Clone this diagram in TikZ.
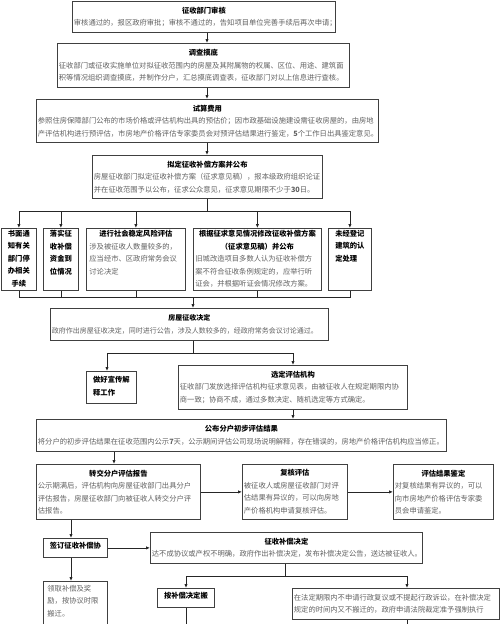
\documentclass[tikz,border=0pt]{standalone}
\usepackage{fontspec}
\setmainfont{Noto Sans CJK SC}
\usetikzlibrary{arrows.meta,calc}
\newcommand\ttl[1]{{\centering\color{black}\bfseries #1\par}}
\begin{document}
\begin{tikzpicture}[x=1pt,y=-1pt,
  box/.style={draw=black!75, line width=0.8pt, fill=white, anchor=north west, inner xsep=1.5pt, inner ysep=1pt,
    font=\fontsize{7.3}{12.5}\selectfont, text=black!62, align=left},
  frame/.style={draw=black!75, line width=0.8pt, fill=white, anchor=north west, inner sep=0pt},
  intext/.style={anchor=north, inner sep=0pt, font=\fontsize{7.3}{12.5}\selectfont, text=black!62, align=left},
  bt/.style={anchor=north, inner sep=0pt, font=\fontsize{7.3}{12.5}\selectfont\bfseries, text=black, align=center},
  arr/.style={draw=black!85, line width=0.8pt, -{Latex[length=4pt,width=3.4pt]}},
  ln/.style={draw=black!85, line width=0.8pt}]
\useasboundingbox (0,0) rectangle (500,624);
\fill[white] (0,0) rectangle (500,624);
\clip (0,0) rectangle (500,624);

% top chain
\node[box, minimum width=263pt, minimum height=31pt, text width=260pt] (b1) at (72,1)
 {\ttl{征收部门审核}审核通过的，报区政府审批；审核不通过的，告知项目单位完善手续后再次申请；};
\node[box, minimum width=292pt, minimum height=44pt, text width=289pt] (b2) at (57,43)
 {\ttl{调查摸底}征收部门或征收实施单位对拟征收范围内的房屋及其附属物的权属、区位、用途、建筑面\\积等情况组织调查摸底，并制作分户，汇总摸底调查表，征收部门对以上信息进行查核。};
\node[box, minimum width=342pt, minimum height=43pt, text width=339pt] (b3) at (36,99)
 {\ttl{试算费用}参照住房保障部门公布的市场价格或评估机构出具的预估价；因市政基础设施建设需征收房屋的，由房地\\产评估机构进行预评估，市房地产价格评估专家委员会对预评估结果进行鉴定，\textbf{5}个工作日出具鉴定意见。};
\node[box, minimum width=230pt, minimum height=43pt, text width=227pt] (b4) at (92,155)
 {\ttl{拟定征收补偿方案并公布}房屋征收部门拟定征收补偿方案（征求意见稿），报本级政府组织论证\\并在征收范围予以公布，征求公众意见，征求意见期限不少于\textbf{30}日。};

% row of five
\node[frame, minimum width=35pt, minimum height=62pt] (bA) at (1,228) {};
\node[frame, minimum width=35pt, minimum height=62pt] (bB) at (43,228) {};
\node[frame, minimum width=99pt, minimum height=62pt] (bC) at (86,228) {};
\node[frame, minimum width=128pt, minimum height=62pt] (bD) at (193,228) {};
\node[frame, minimum width=43pt, minimum height=62pt] (bE) at (328,228) {};
\node[bt] (tA) at ($(bA.north)+(0,2)$) {书面通\\知有关\\部门停\\办相关\\手续};
\node[bt] (tB) at ($(bB.north)+(0,2)$) {落实征\\收补偿\\资金到\\位情况};
\node[intext, text width=93pt] (tC) at ($(bC.north)+(0,2)$)
 {\ttl{进行社会稳定风险评估}涉及被征收人数量较多的，\\应当经市、区政府常务会议\\讨论决定};
\node[intext, text width=124pt] (tD) at ($(bD.north)+(0,2)$)
 {{\centering\color{black}\bfseries 根据征求意见情况修改征收补偿方案\\（征求意见稿）并公布\par}旧城改造项目多数人认为征收补偿方\\案不符合征收条例规定的，应举行听\\证会，并根据听证会情况修改方案。};
\node[bt, align=left] (tE) at ($(bE.north)+(0,2)$) {未经登记\\建筑的认\\定处理};

\node[box, minimum width=278pt, minimum height=32pt, text width=275pt, font=\fontsize{7}{12.5}\selectfont] (b5) at (50,308)
 {\ttl{房屋征收决定}政府作出房屋征收决定，同时进行公告，涉及人数较多的，经政府常务会议讨论通过。};
\node[frame, minimum width=50pt, minimum height=32pt] (b6) at (86,371) {};
\node[bt, align=left] (t6) at ($(b6.north)+(0,5)$) {做好宣传解\\释工作};
\node[box, minimum width=229pt, minimum height=44pt, text width=226pt] (b7) at (178,365)
 {\ttl{选定评估机构}征收部门发放选择评估机构征求意见表，由被征收人在规定期限内协\\商一致；协商不成，通过多数决定、随机选定等方式确定。};
\node[box, minimum width=410pt, minimum height=32pt, text width=407pt] (b8) at (36,419)
 {\ttl{公布分户初步评估结果}将分户的初步评估结果在征收范围内公示\textbf{7}天，公示期间评估公司现场说明解释，存在错误的，房地产价格评估机构应当修正。};
\node[box, minimum width=164pt, minimum height=55pt, text width=161pt] (b9) at (36,464)
 {\ttl{转交分户评估报告}公示期满后，评估机构向房屋征收部门出具分户\\评估报告，房屋征收部门向被征收人转交分户评\\估报告。};
\node[box, minimum width=105pt, minimum height=55pt, text width=102pt] (b10) at (242,464)
 {\ttl{复核评估}被征收人或房屋征收部门对评\\估结果有异议的，可以向房地\\产价格机构申请复核评估。};
\node[box, minimum width=100pt, minimum height=55pt, text width=97pt] (b11) at (393,464)
 {\ttl{评估结果鉴定}对复核结果有异议的，可以\\向市房地产价格评估专家委\\员会申请鉴定。};
\node[frame, minimum width=64pt, minimum height=19pt] (b12) at (43,538) {};
\node[bt] (t12) at ($(b12.north)+(0,4)$) {签订征收补偿协};
\node[box, minimum width=272pt, minimum height=31pt, text width=269pt] (b13) at (150,532)
 {\ttl{征收补偿决定}达不成协议或产权不明确，政府作出补偿决定，发布补偿决定公告，送达被征收人。};
\node[frame, minimum width=64pt, minimum height=50pt] (b14) at (43,581) {};
\node[intext, text width=56pt] (t14) at ($(b14.north)+(0,4)$) {领取补偿及奖\\励，按协议时限\\搬迁。};
\node[frame, minimum width=57pt, minimum height=19pt] (b15) at (157,588) {};
\node[bt] (t15) at ($(b15.north)+(0,4)$) {按补偿决定搬};
\node[box, minimum width=207pt, minimum height=31pt, text width=204pt] (b16) at (292,588)
 {在法定期限内不申请行政复议或不提起行政诉讼，在补偿决定\\规定的时间内又不搬迁的，政府申请法院裁定准予强制执行};

% connectors
\coordinate (c1) at (207,0);
\draw[arr] (b1.south -| c1) -- (b2.north -| c1);
\draw[arr] (b2.south -| c1) -- (b3.north -| c1);
\draw[arr] (b3.south -| c1) -- (b4.north -| c1);
\coordinate (s1) at (207,211);
\draw[ln] (b4.south -| s1) -- (s1);
\draw[ln] (bA.north |- s1) -- (bE.north |- s1);
\foreach \n in {bA,bB,bC,bD,bE} {\draw[arr] (\n.north |- s1) -- (\n.north);}
\coordinate (m1) at (193,297);
\draw[ln] (bA.south) -- (bA.south |- m1) -- (bE.south |- m1) -- (bE.south);
\foreach \n in {bB,bC,bD} {\draw[ln] (\n.south) -- (\n.south |- m1);}
\draw[arr] (m1) -- (b5.north -| m1);
\coordinate (s2) at (193,353);
\draw[ln] (b5.south -| s2) -- (s2);
\coordinate (s2l) at (107,353);
\coordinate (s2r) at (293,353);
\draw[ln] (s2l) -- (s2r);
\draw[arr] (s2l) -- (b6.north -| s2l);
\draw[arr] (s2r) -- (b7.north -| s2r);
\draw[arr] (b7.south -| s2r) -- (b8.north -| s2r);
\coordinate (c2) at (114,0);
\draw[arr] (b8.south -| c2) -- (b9.north -| c2);
\draw[arr] (b9.east) -- (b10.west);
\draw[arr] (b10.east) -- (b11.west);
\coordinate (c3) at (71,0);
\draw[arr] (b9.south -| c3) -- (b12.north -| c3);
\draw[arr] (b12.east) -- (b12.east -| b13.west);
\draw[arr] (b12.south -| c3) -- (b14.north -| c3);
\coordinate (s3) at (285,576);
\draw[ln] (b13.south -| s3) -- (s3);
\coordinate (s3l) at (186,576);
\coordinate (s3r) at (407,576);
\draw[ln] (s3l) -- (s3r);
\draw[arr] (s3l) -- (b15.north -| s3l);
\draw[arr] (s3r) -- (b16.north -| s3r);
\coordinate (e1) at (186,624);
\coordinate (e2) at (407,624);
\draw[ln] (b15.south -| e1) -- (e1);
\draw[ln] (b16.south -| e2) -- (e2);
\end{tikzpicture}
\end{document}
